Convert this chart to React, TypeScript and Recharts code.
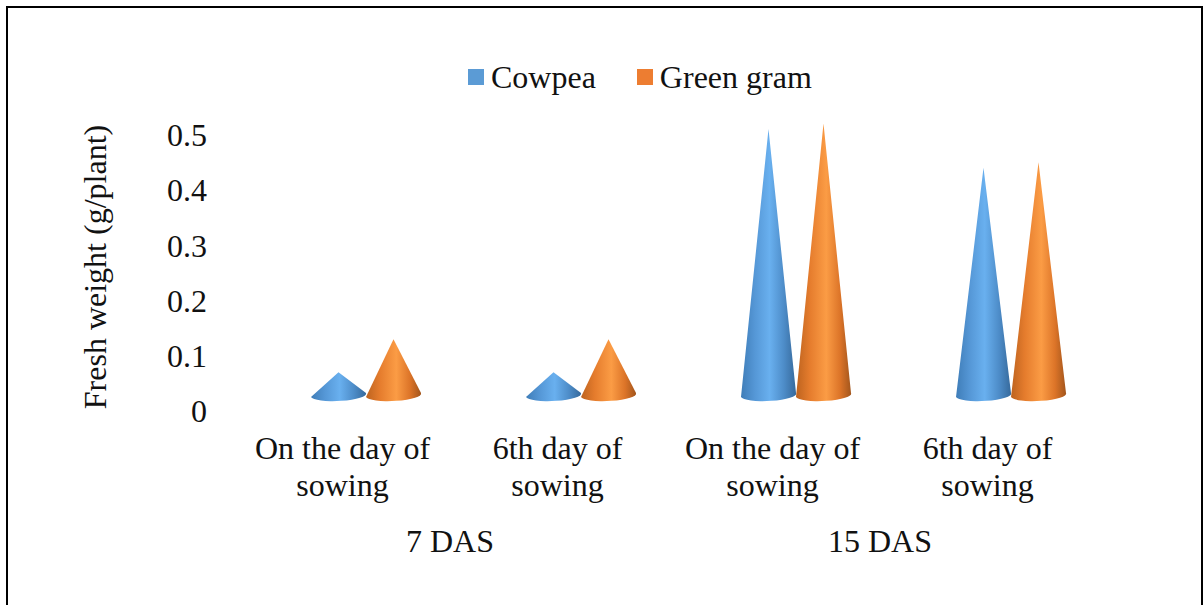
import { BarChart, Bar, XAxis, YAxis, Legend, Label } from "recharts"

const categories = ["On the day of\nsowing", "6th day of\nsowing", "On the day of\nsowing", "6th day of\nsowing"]
const groups = ["7 DAS", "", "15 DAS", ""]
const cowpea = [0.07, 0.07, 0.51, 0.44]
const greenGram = [0.13, 0.13, 0.52, 0.45]
const yTicks = [0, 0.1, 0.2, 0.3, 0.4, 0.5]

const chartData = categories.map((category, i) => ({
  category,
  cowpea: cowpea[i],
  greenGram: greenGram[i],
}))

const FONT = '"Liberation Serif", "Times New Roman", serif'
const TEXT = "#111111"

// the 3D floor of the original: cones sit up and to the right of the axis position
const DEPTH_X = 23
const DEPTH_Y = 15

function makeCone(gradientId: string) {
  return function Cone(props: any) {
    const { x, y, width, height } = props
    const cx = x + width / 2 + DEPTH_X
    const baseY = y + height - DEPTH_Y
    const rx = width / 2
    const d = `M ${cx} ${y} L ${cx + rx} ${baseY - 3} A ${rx} 6 -3 0 1 ${cx - rx} ${baseY + 1} Z`
    return <path d={d} fill={`url(#${gradientId})`} />
  }
}

const CategoryTick = (props: any) => {
  const { x, y, payload, index } = props
  const lines = String(payload.value).split("\n")
  return (
    <g fontFamily={FONT} fontSize={32} fill={TEXT} textAnchor="middle">
      <text x={x} y={y + 40}>{lines[0]}</text>
      <text x={x} y={y + 77}>{lines[1]}</text>
      {groups[index] ? <text x={x + 107.5} y={y + 133}>{groups[index]}</text> : null}
    </g>
  )
}

const LegendContent = ({ payload }: any) => (
  <div style={{ display: "flex", alignItems: "center", fontFamily: FONT, fontSize: 32, color: TEXT, lineHeight: "34px" }}>
    {(payload || []).map((entry: any, i: number) => (
      <div key={entry.value} style={{ display: "flex", alignItems: "center", marginRight: i === 0 ? 41 : 0 }}>
        <span style={{ width: 16, height: 16, background: entry.color, marginRight: 7, display: "inline-block" }} />
        {entry.value}
      </div>
    ))}
  </div>
)

export default function App() {
  return (
    <div style={{ position: "absolute", left: 0, top: 0, width: 1203, height: 605, overflow: "hidden", background: "#fff" }}>
      <div
        style={{
          position: "absolute",
          left: 6,
          top: 6,
          width: 1193,
          height: 599,
          borderLeft: "2px solid #000",
          borderTop: "2px solid #000",
          borderRight: "2px solid #000",
        }}
      />
      <div style={{ position: "absolute", left: 0, top: 0 }}>
        <BarChart
          width={1203}
          height={605}
          data={chartData}
          margin={{ top: 73, right: 108, bottom: 44, left: 75 }}
          barSize={55}
          barGap={0}
        >
          <defs>
            <linearGradient id="coneBlue" x1="0" y1="0" x2="1" y2="0">
              <stop offset="0%" stopColor="#3f7db8" />
              <stop offset="25%" stopColor="#5597d6" />
              <stop offset="52%" stopColor="#69b0ef" />
              <stop offset="78%" stopColor="#4d8cc8" />
              <stop offset="100%" stopColor="#36699b" />
            </linearGradient>
            <linearGradient id="coneOrange" x1="0" y1="0" x2="1" y2="0">
              <stop offset="0%" stopColor="#bd631f" />
              <stop offset="25%" stopColor="#e57c2d" />
              <stop offset="55%" stopColor="#fb9c45" />
              <stop offset="80%" stopColor="#dc7428" />
              <stop offset="100%" stopColor="#a2551c" />
            </linearGradient>
          </defs>
          <XAxis
            dataKey="category"
            height={150}
            interval={0}
            axisLine={false}
            tickLine={false}
            tick={<CategoryTick />}
          />
          <YAxis
            type="number"
            domain={[0, 0.55]}
            ticks={yTicks}
            width={160}
            axisLine={false}
            tickLine={false}
            tick={{ fontFamily: FONT, fontSize: 32, fill: TEXT, dx: -20 }}
            tickFormatter={(v: number) => String(v)}
          >
            <Label
              value="Fresh weight (g/plant)"
              angle={-90}
              position="insideLeft"
              offset={20}
              dy={8}
              style={{ fontFamily: FONT, fontSize: 32, fill: TEXT, textAnchor: "middle" }}
            />
          </YAxis>
          <Legend
            verticalAlign="top"
            content={<LegendContent />}
            wrapperStyle={{ position: "absolute", top: 60, left: 468, width: "auto" }}
          />
          <Bar dataKey="cowpea" name="Cowpea" fill="#5B9BD5" shape={makeCone("coneBlue")} isAnimationActive={false} />
          <Bar dataKey="greenGram" name="Green gram" fill="#ED7D31" shape={makeCone("coneOrange")} isAnimationActive={false} />
        </BarChart>
      </div>
    </div>
  )
}
